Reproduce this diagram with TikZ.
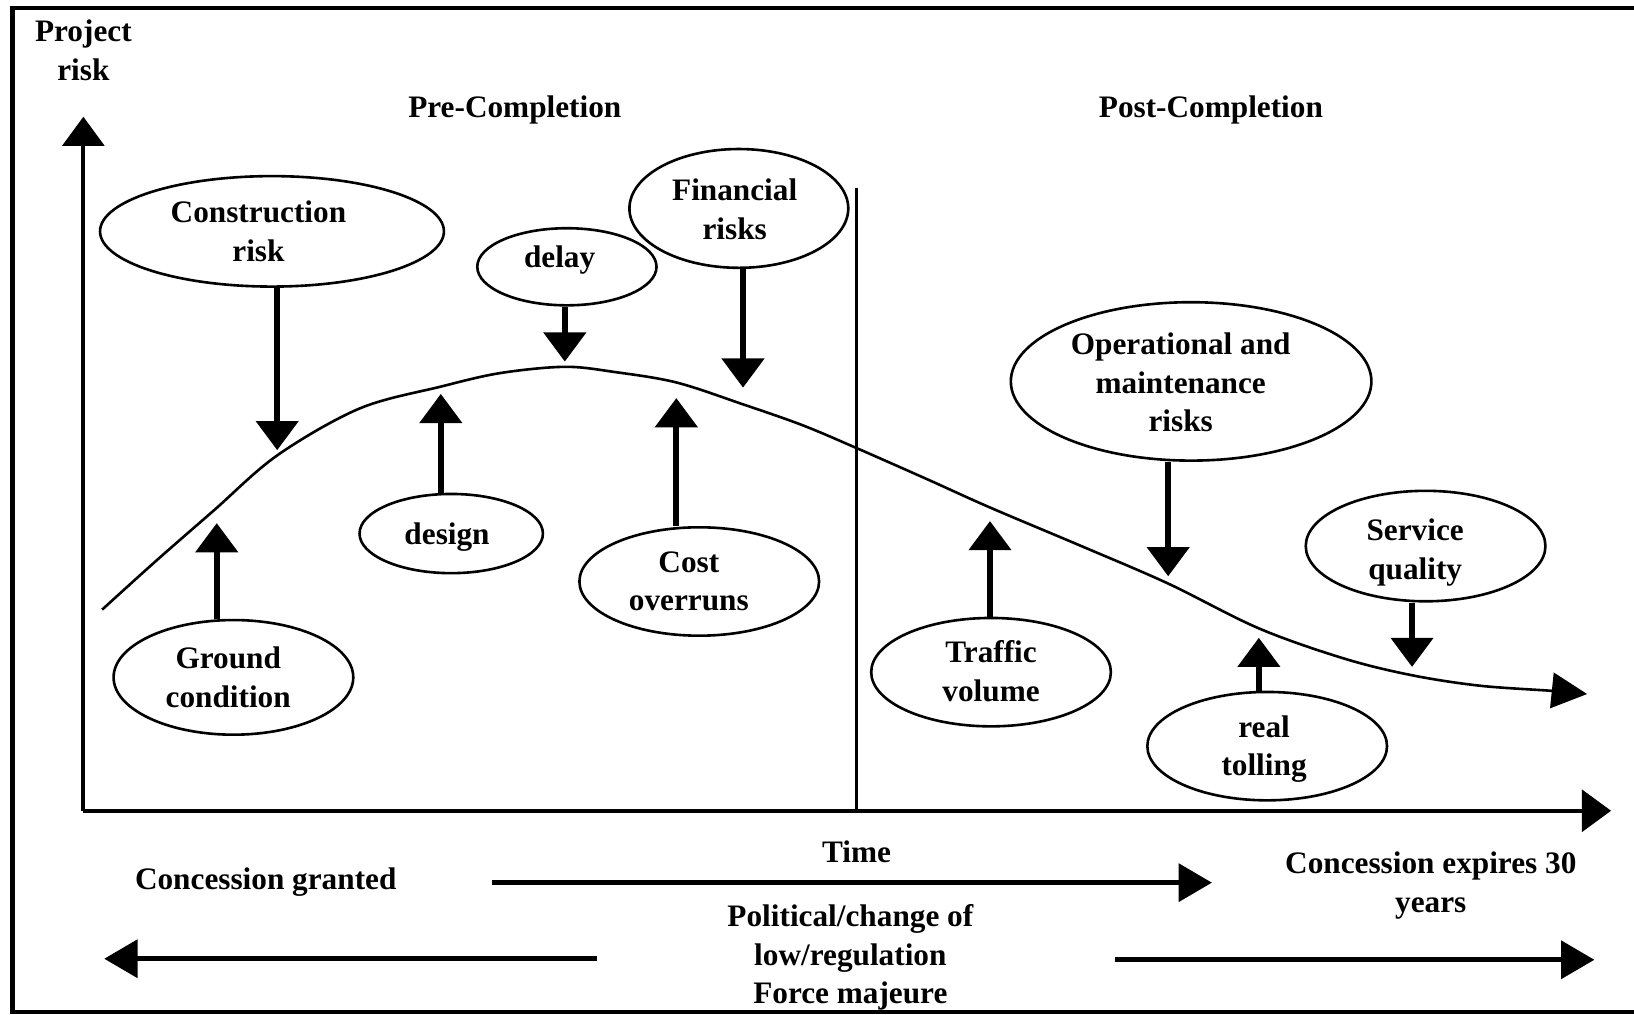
\documentclass[tikz,border=0pt]{standalone}
\usepackage{fontspec}
\setmainfont{Liberation Serif}
\usetikzlibrary{arrows.meta,shapes.geometric}
\begin{document}
\begin{tikzpicture}[x=1pt,y=-1pt,
  every node/.style={font=\bfseries\fontsize{30}{37}\selectfont, align=center, inner sep=0pt},
  riskbox/.style={ellipse, draw, line width=2.5pt, fill=white},
  frameline/.style={line width=4pt},
  axis/.style={line width=4pt, -{Triangle[width=40pt,length=28pt]}},
  riskarrow/.style={line width=5.5pt, -{Triangle[width=40pt,length=28pt]}},
  longarrow/.style={line width=5pt, -{Triangle[width=36pt,length=32pt]}},
  riskcurve/.style={line width=2.5pt, -{Triangle[width=34pt,length=34pt]}}]

% canvas
\useasboundingbox (0,0) rectangle (1568,974);
\fill[white] (0,0) rectangle (1568,974);

% outer frame (open on the right)
\draw[frameline] (1568,8) -- (12,8) -- (12,971) -- (1568,971);

% axes and the completion divider
\coordinate (O) at (80,778);
\coordinate (ytop) at (80,112);
\coordinate (xend) at (1546,778);
\draw[axis] (O) -- (ytop);
\draw[axis] (O) -- (xend);
\coordinate (divtop) at (822,180);
\coordinate (divbot) at (822,778);
\draw[line width=2.5pt] (divtop) -- (divbot);

% headings
\node (yl) at (80,48.5) {Project\\risk};
\node (pre) at (494,106) {Pre-Completion};
\node (post) at (1162,106) {Post-Completion};

% risk profile over time
\draw[riskcurve] plot[smooth, tension=0.55] coordinates {
  (98,585) (150,538) (205,490) (266,437) (345,392) (423,371) (480,358)
  (542,352) (590,357) (649,367) (713,388) (770,408) (822,430) (890,460)
  (950,487) (1040,525) (1121,560) (1208,603) (1290,632) (1355,648)
  (1420,658) (1490,663) (1523,666)};

% risk ellipses
\node[riskbox, minimum width=330pt, minimum height=106pt] (cr) at (261,222) {};
\node[riskbox, minimum width=172pt, minimum height=74pt] (dl) at (544,256) {};
\node[riskbox, minimum width=210pt, minimum height=114pt] (fr) at (709,200) {};
\node[riskbox, minimum width=176pt, minimum height=76pt] (ds) at (433,512) {};
\node[riskbox, minimum width=230pt, minimum height=104pt] (co) at (671,558) {};
\node[riskbox, minimum width=230pt, minimum height=110pt] (gc) at (224,650) {};
\node[riskbox, minimum width=346pt, minimum height=152pt] (om) at (1143,366) {};
\node[riskbox, minimum width=230pt, minimum height=104pt] (tv) at (951,645) {};
\node[riskbox, minimum width=230pt, minimum height=106pt] (sq) at (1368,524) {};
\node[riskbox, minimum width=230pt, minimum height=104pt] (rt) at (1216,716) {};

% their labels
\node (crL) at ([xshift=-13pt]cr) {Construction\\risk};
\node (dlL) at ([xshift=-7pt,yshift=6pt]dl) {delay};
\node (frL) at ([xshift=-4pt,yshift=-1pt]fr) {Financial\\risks};
\node (dsL) at ([xshift=-4pt,yshift=-3pt]ds) {design};
\node (coL) at ([xshift=-10pt]co) {Cost\\overruns};
\node (gcL) at ([xshift=-5pt]gc) {Ground\\condition};
\node (omL) at ([xshift=-10pt,yshift=-1pt]om) {Operational and\\maintenance\\risks};
\node (tvL) at ([yshift=1pt]tv) {Traffic\\volume};
\node (sqL) at ([xshift=-10pt,yshift=-6pt]sq) {Service\\quality};
\node (rtL) at ([xshift=-3pt,yshift=-3pt]rt) {real\\tolling};

% arrow ends on the curve
\coordinate (crT) at (266,432);
\coordinate (dlT) at (542,347);
\coordinate (frT) at (713,372);
\coordinate (dsT) at (423,378);
\coordinate (coT) at (649,382);
\coordinate (gcT) at (208,502);
\coordinate (omT) at (1121,553);
\coordinate (tvT) at (950,500);
\coordinate (sqT) at (1355,640);
\coordinate (rtT) at (1208,612);

% risks pushing the profile down / up
\draw[riskarrow] (crT |- cr.south) -- (crT);
\draw[riskarrow] (dlT |- dl.south) -- (dlT);
\draw[riskarrow] (frT |- fr.south) -- (frT);
\draw[riskarrow] (omT |- om.south) -- (omT);
\draw[riskarrow] (sqT |- sq.south) -- (sqT);
\draw[riskarrow] (dsT |- ds.north) -- (dsT);
\draw[riskarrow] (coT |- co.north) -- (coT);
\draw[riskarrow] (gcT |- gc.north) -- (gcT);
\draw[riskarrow] (tvT |- tv.north) -- (tvT);
\draw[riskarrow] (rtT |- rt.north) -- (rtT);

% time line below the axis
\node (time) at (822,817) {Time};
\node (cg) at (255,846) {Concession granted};
\node (ce) at (1373,850) {Concession expires 30\\years};
\node (pol) at (816,919) {Political/change of\\low/regulation\\Force majeure};

\coordinate (tA) at (472,847);
\coordinate (tB) at (1163,847);
\draw[longarrow] (tA) -- (tB);
\coordinate (lA) at (573,920);
\coordinate (lB) at (100,920);
\draw[longarrow] (lA) -- (lB);
\coordinate (rA) at (1070,921);
\coordinate (rB) at (1530,921);
\draw[longarrow] (rA) -- (rB);
\end{tikzpicture}
\end{document}
